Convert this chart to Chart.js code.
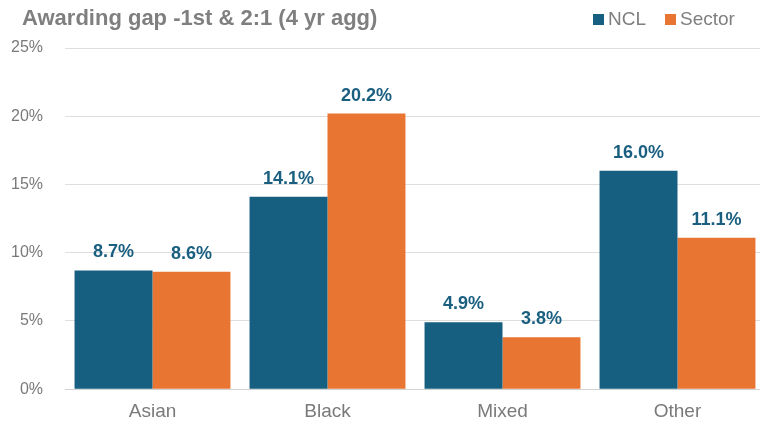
<!DOCTYPE html>
<html>
<head>
<meta charset="utf-8">
<script src="https://cdn.jsdelivr.net/npm/chart.js@4.4.1/dist/chart.umd.min.js"></script>
<style>
  html, body { margin: 0; padding: 0; background: #fff; overflow: hidden; }
  #wrap { position: relative; width: 765px; height: 442px; }
  #title {
    position: absolute; left: 22px; top: 5px;
    font: bold 22px "Liberation Sans", Arial, sans-serif; color: #7f7f7f;
  }
  #legend {
    position: absolute; left: 593px; top: 8px;
    font: 19px "Liberation Sans", Arial, sans-serif; color: #7f7f7f;
  }
  #legend span.item { margin-right: 19px; }
  #legend i { display: inline-block; width: 11px; height: 11px; margin-right: 4px; }
</style>
</head>
<body>
<div id="wrap">
  <canvas id="gapChart" width="765" height="442"></canvas>
  <div id="title">Awarding gap -1st &amp; 2:1 (4 yr agg)</div>
  <div id="legend"></div>
</div>
<script>
  // ============================
  // DATA
  // ============================
  const groups = ["Asian", "Black", "Mixed", "Other"];
  const ncl = [8.7, 14.1, 4.9, 16.0];
  const sector = [8.6, 20.2, 3.8, 11.1];
  const yTicks = [0, 5, 10, 15, 20, 25];

  const NCL_COLOR = "#165f80";
  const SECTOR_COLOR = "#e97532";

  // legend built in html so it sits on the title row
  document.getElementById("legend").innerHTML =
    `<span class="item"><i style="background:${NCL_COLOR}"></i>NCL</span>` +
    `<span><i style="background:${SECTOR_COLOR}"></i>Sector</span>`;

  // value labels above each bar
  const barLabels = {
    id: "barLabels",
    afterDatasetsDraw(chart) {
      const ctx = chart.ctx;
      ctx.save();
      ctx.font = "bold 18px 'Liberation Sans', Arial, sans-serif";
      ctx.fillStyle = "#1a5f80";
      ctx.textAlign = "center";
      ctx.textBaseline = "alphabetic";
      chart.data.datasets.forEach((ds, i) => {
        chart.getDatasetMeta(i).data.forEach((bar, j) => {
          ctx.fillText(ds.data[j].toFixed(1) + "%", bar.x, bar.y - 13);
        });
      });
      ctx.restore();
    }
  };

  const ctx = document.getElementById("gapChart").getContext("2d");

  new Chart(ctx, {
    type: "bar",
    data: {
      labels: groups,
      datasets: [
        { label: "NCL", data: ncl, backgroundColor: NCL_COLOR },
        { label: "Sector", data: sector, backgroundColor: SECTOR_COLOR }
      ]
    },
    options: {
      responsive: false,
      animation: false,
      layout: { padding: { top: 48, right: 0, bottom: 16, left: 0 } },
      datasets: {
        bar: { categoryPercentage: 0.891, barPercentage: 1.0, borderWidth: 0 }
      },
      plugins: {
        legend: { display: false },
        tooltip: { enabled: false }
      },
      scales: {
        y: {
          min: 0,
          max: 25,
          afterBuildTicks: axis => { axis.ticks = yTicks.map(v => ({ value: v })); },
          afterFit: axis => { axis.width = 65; },
          ticks: {
            callback: v => v + "%",
            color: "#7a7a7a",
            padding: 22,
            font: { family: "'Liberation Sans', Arial, sans-serif", size: 16 }
          },
          grid: { color: "#dedede", drawTicks: false },
          border: { display: false }
        },
        x: {
          ticks: {
            color: "#7a7a7a",
            padding: 3,
            font: { family: "'Liberation Sans', Arial, sans-serif", size: 19 }
          },
          grid: { display: false },
          border: { color: "#d2d2d2" }
        }
      }
    },
    plugins: [barLabels]
  });
</script>
</body>
</html>
